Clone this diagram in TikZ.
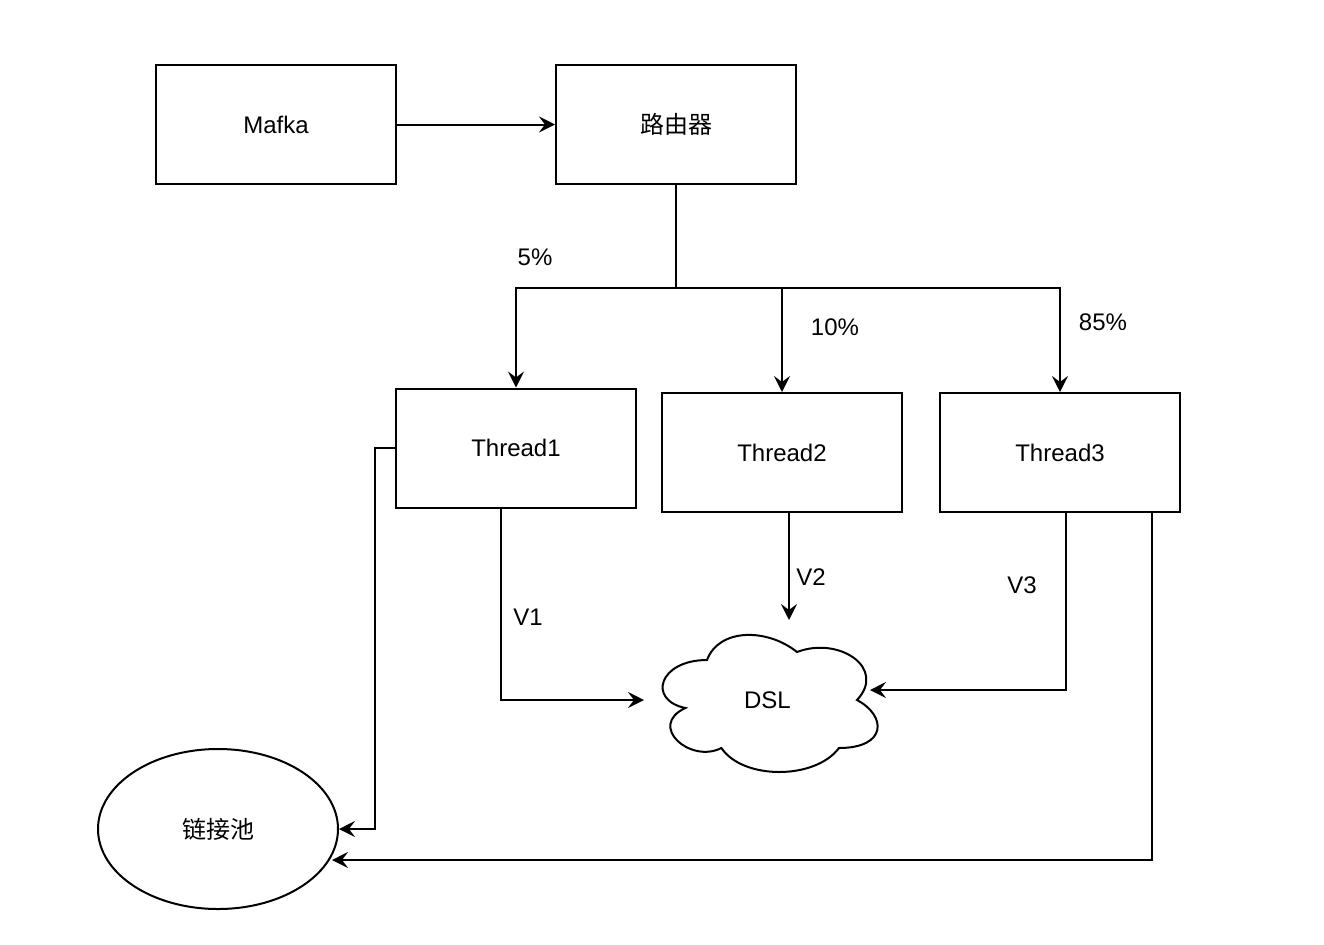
\documentclass[tikz,border=0pt]{standalone}
\usepackage{fontspec}
\setmainfont{Liberation Sans}
\newfontfamily\cjk{Noto Sans CJK SC}
\usetikzlibrary{arrows.meta,shapes.geometric}
\begin{document}
\begin{tikzpicture}[x=0.5pt,y=-0.5pt, line width=1pt,
  txt/.style={font=\fontsize{12}{14}\selectfont},
  box/.style={draw, txt, minimum width=120pt, minimum height=59.5pt, inner sep=0pt},
  lbl/.style={txt, inner sep=0pt},
  arr/.style={-{Stealth[length=8pt,width=8pt,inset=3pt]}}]
\useasboundingbox (0,0) rectangle (1324,944);
\fill[white] (0,0) rectangle (1324,944);
% nodes
\node[box] (mafka) at (276,124.5) {Mafka};
\node[box] (router) at (676,124.5) {\cjk 路由器};
\node[box] (t1) at (516,448) {Thread1};
\node[box] (t2) at (782,452.5) {Thread2};
\node[box] (t3) at (1060,452.5) {Thread3};
\node[draw, ellipse, txt, minimum width=120pt, minimum height=80pt, inner sep=0pt] (pool) at (218,829) {\cjk 链接池};
\node[txt, minimum width=122.5pt, minimum height=80pt, inner sep=0pt] (dsl) at (767.5,700) {DSL};
% cloud outline
\begin{scope}[shift={(647,620)}, x=120pt, y=-80pt]
\draw (0.25,0.25) .. controls (0.05,0.25) and (0,0.5) .. (0.16,0.55)
  .. controls (0,0.66) and (0.18,0.9) .. (0.31,0.8)
  .. controls (0.4,1) and (0.7,1) .. (0.8,0.8)
  .. controls (1,0.8) and (1,0.6) .. (0.875,0.5)
  .. controls (1,0.3) and (0.8,0.1) .. (0.625,0.2)
  .. controls (0.5,0.05) and (0.3,0.05) .. (0.25,0.25) -- cycle;
\end{scope}
% coordinates
\coordinate (split) at (676,288);
\coordinate (d2) at (789,620);
\coordinate (d3) at (870,690);
\coordinate (p2) at (332,860);
% connectors
\draw[arr] (mafka) -- (router);
\draw[arr] (router.south) -- (split) -| (t1.north);
\draw[arr] (split) -| (t2.north);
\draw[arr] (split) -| (t3.north);
\draw[arr] ([xshift=-7.5pt]t1.south) |- (dsl.west);
\draw[arr] ([xshift=3.5pt]t2.south) -- (d2);
\draw[arr] ([xshift=3pt]t3.south) |- (d3);
\draw[arr] (t1.west) -- ++(-20,0) |- (pool.east);
\draw[arr] ([xshift=46pt]t3.south) |- (p2);
% labels
\node[lbl] (l5) at (535,257) {5\%};
\node[lbl] (l10) at (835,327) {10\%};
\node[lbl] (l85) at (1103,322) {85\%};
\node[lbl] (v1) at (528,617) {V1};
\node[lbl] (v2) at (811,577) {V2};
\node[lbl] (v3) at (1022,585) {V3};
\end{tikzpicture}
\end{document}
